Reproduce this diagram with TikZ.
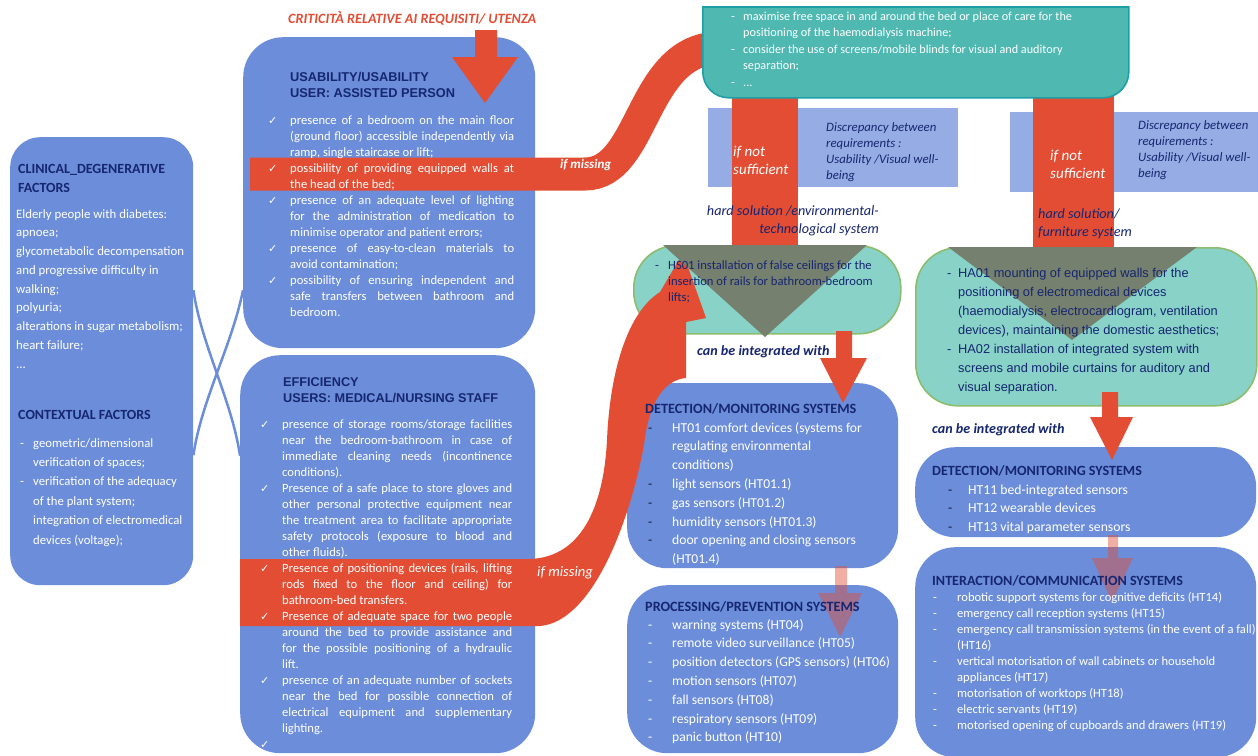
\documentclass[tikz,border=0pt]{standalone}
\usepackage{fontspec}
\setmainfont{Carlito}
\newfontfamily\arialf{Liberation Sans}
\newfontfamily\djv{DejaVu Sans}
\usetikzlibrary{calc}
\definecolor{boxblue}{RGB}{108,142,218}
\definecolor{navy}{RGB}{22,38,112}
\definecolor{redA}{RGB}{226,77,52}
\definecolor{peri}{RGB}{150,172,228}
\definecolor{tealA}{RGB}{78,184,177}
\definecolor{tealB}{RGB}{28,160,166}
\definecolor{ltteal}{RGB}{136,210,200}
\definecolor{grn}{RGB}{140,188,110}
\definecolor{tri}{RGB}{118,128,110}
\definecolor{dashc}{RGB}{20,25,50}
\newcommand\fs[2]{\fontsize{#1}{#2}\selectfont}
\newcommand\jst{\tolerance=10000\hyphenpenalty=10000\exhyphenpenalty=10000\relax}
\newlength\jw
\newcommand\ckm{\makebox[22pt][l]{\djv\fs{11}{11}✓}}
\newcommand\citem[1]{\par\noindent\ckm\parbox[t]{\jw}{\jst #1\strut}\par\prevdepth=\dp\strutbox}
\newcommand\ditem[3]{\par\noindent\makebox[#1][l]{#2}\parbox[t]{400pt}{\raggedright #3\strut}\par\prevdepth=\dp\strutbox}
\newcommand\ml[2][430pt]{\parbox[t]{#1}{\raggedright #2}}
\begin{document}
\begin{tikzpicture}[x=1pt,y=-1pt,
 box/.style={fill=boxblue,rounded corners=40pt,inner sep=0pt,anchor=north west},
 ltbox/.style={fill=ltteal,draw=grn,line width=1.6pt,rounded corners=42pt,inner sep=0pt,anchor=north west},
 rect/.style={fill=peri,inner sep=0pt,anchor=north west},
 txt/.style={inner sep=0pt,anchor=base west},
 wtxt/.style={txt,text=white},
 ntxt/.style={txt,text=navy},
 blk/.style={fill=redA},
 pink/.style={fill=redA,fill opacity=0.45},
 cross/.style={draw=boxblue,line width=2.5pt}]

\useasboundingbox (0,0) rectangle (1258,755);
\fill[white] (0,0) rectangle (1258,755);

% left / middle boxes
\node[box,rounded corners=30pt,minimum width=183pt,minimum height=448pt] (clin) at (10,137) {};
\node[box,minimum width=292pt,minimum height=311pt] (usab) at (243,37) {};
\node[box,minimum width=295pt,minimum height=398pt] (eff) at (240,355) {};
\draw[cross] ([yshift=71pt]clin.east) .. controls +(8,55) and +(-8,-55) .. ([yshift=98.5pt]eff.west);
\draw[cross] ([yshift=-94pt]clin.east) .. controls +(8,-55) and +(-11,55) .. ([yshift=-97.5pt]usab.west);

% discrepancy rectangles
\node[rect,minimum width=250pt,minimum height=79pt] (disc1) at (708,108) {};
\node[rect,minimum width=250pt,minimum height=80pt] (disc2) at (1010,112) {};

% light teal boxes
\node[ltbox,minimum width=267pt,minimum height=88pt] (hs) at (633,245) {};
\node[ltbox,minimum width=341pt,minimum height=158pt] (ha) at (915,247) {};

% right blue boxes
\node[box,minimum width=271pt,minimum height=185pt] (det1) at (627,383) {};
\node[box,minimum width=271pt,minimum height=168pt] (proc) at (627,585) {};
\node[box,minimum width=341pt,minimum height=90pt] (det2) at (915,447) {};
\node[box,minimum width=341pt,minimum height=210pt] (inter) at (915,547) {};

% red bands
\draw[redA,line width=33pt] (250,174) -- (585,174) .. controls (645,174) and (640,48) .. (720,48);
\fill[redA] (240,559) -- (530,559) .. controls (585,557) and (604,500) .. (607,440)
  .. controls (610,370) and (628,312) .. (660,292) -- (683,253) -- (706,318) -- (686,322)
  -- (686,378) .. controls (664,380) and (649,402) .. (644,445)
  .. controls (628,530) and (590,622) .. (540,626) -- (240,626) -- cycle;

% vertical red bars
\fill[redA] (732,80) rectangle (798,245);
\fill[redA] (1033,80) rectangle (1114,247);

% top teal box
\node[fill=tealA,draw=tealB,line width=1.6pt,rounded corners=26pt,inner sep=0pt,anchor=north west,minimum width=426pt,minimum height=130pt] (tt) at (702,-33) {};
\fill[white] (690,-40) rectangle (1140,6);
\draw[tealB,line width=1.6pt] (702,6.8) -- (1128,6.8);

% arrowheads in teal boxes
\fill[tri] (663,245) -- (867,245) -- (765,337) -- cycle;
\fill[tri] (948,247) -- (1197,247) -- (1072,340) -- cycle;

% block arrows
\fill[blk] (475,30) -- (497,30) -- (497,57) -- (518,57) -- (485,103) -- (452,57) -- (475,57) -- cycle;
\fill[blk] (836,331) -- (852,331) -- (852,358) -- (867,358) -- (843,403) -- (820,358) -- (836,358) -- cycle;
\fill[blk] (1102,392) -- (1118,392) -- (1118,417) -- (1133,417) -- (1112,460) -- (1090,417) -- (1102,417) -- cycle;
\fill[pink] (835,566) -- (847,566) -- (847,593) -- (862,593) -- (840,637) -- (818,593) -- (835,593) -- cycle;
\fill[pink] (1108,535) -- (1118,535) -- (1118,558) -- (1133,558) -- (1112,602) -- (1092,558) -- (1108,558) -- cycle;

% ---------- texts ----------
\node[txt,text=redA,font=\fs{14.2}{16}\bfseries\itshape] (crit) at (288,23) {CRITICITÀ RELATIVE AI REQUISITI/ UTENZA};

\node[ntxt,font=\fs{14}{19}\bfseries] (clint) at (18,173) {\ml{CLINICAL\_DEGENERATIVE\\FACTORS}};
\node[wtxt,font=\fs{12.8}{18.75}] (clinb) at (16,218) {\ml{Elderly people with diabetes:\\apnoea;\\glycometabolic decompensation\\and progressive difficulty in\\walking;\\polyuria;\\alterations in sugar metabolism;\\heart failure;\\...}};
\node[ntxt,font=\fs{14}{19}\bfseries] (ctxt) at (18,419) {CONTEXTUAL FACTORS};
\node[wtxt,font=\fs{12.7}{19.4}] (ctxb) at (20,447) {\ml{\ditem{13pt}{-}{geometric/dimensional\\verification of spaces;}\ditem{13pt}{-}{verification of the adequacy\\of the plant system;\\integration of electromedical\\devices (voltage);}}};

\node[ntxt,font=\arialf\fs{12.8}{16}\bfseries] (usabt) at (290,81) {\ml{USABILITY/USABILITY\\USER: ASSISTED PERSON}};
\node[wtxt,font=\fs{12.6}{16}] (usabb) at (268,124) {\ml{\jw=224pt
\citem{presence of a bedroom on the main floor\linebreak (ground floor) accessible independently via\linebreak ramp, single staircase or lift;}
\citem{possibility of providing equipped walls at\linebreak the head of the bed;}
\citem{presence of an adequate level of lighting\linebreak for the administration of medication to\linebreak minimise operator and patient errors;}
\citem{presence of easy-to-clean materials to\linebreak avoid contamination;}
\citem{possibility of ensuring independent and\linebreak safe transfers between bathroom and\linebreak bedroom.}}};

\node[ntxt,font=\arialf\fs{12.7}{16}\bfseries] (efft) at (283,386) {\ml{EFFICIENCY\\USERS: MEDICAL/NURSING STAFF}};
\node[wtxt,font=\fs{12.6}{16}] (effb) at (260,428) {\ml{\jw=230pt
\citem{presence of storage rooms/storage facilities\linebreak near the bedroom-bathroom in case of\linebreak immediate cleaning needs (incontinence\linebreak conditions).}
\citem{Presence of a safe place to store gloves and\linebreak other personal protective equipment near\linebreak the treatment area to facilitate appropriate\linebreak safety protocols (exposure to blood and\linebreak other fluids).}
\citem{Presence of positioning devices (rails, lifting\linebreak rods fixed to the floor and ceiling) for\linebreak bathroom-bed transfers.}
\citem{Presence of adequate space for two people\linebreak around the bed to provide assistance and\linebreak for the possible positioning of a hydraulic\linebreak lift.}
\citem{presence of an adequate number of sockets\linebreak near the bed for possible connection of\linebreak electrical equipment and supplementary\linebreak lighting.}
\citem{\mbox{}}}};

\node[wtxt,font=\fs{13}{15}\bfseries\itshape] (miss1) at (560,168) {if missing};
\node[wtxt,font=\fs{14.6}{16}\itshape] (miss2) at (537,576) {if missing};

\node[wtxt,font=\fs{12.2}{16.5}] (ttb) at (731,20) {\ml{\ditem{12pt}{-}{maximise free space in and around the bed or place of care for the\\positioning of the haemodialysis machine;}\ditem{12pt}{-}{consider the use of screens/mobile blinds for visual and auditory\\separation;}\ditem{12pt}{-}{...}}};

\node[ntxt,font=\fs{12.8}{16}\itshape] (d1t) at (826,131) {\ml{Discrepancy between\\requirements :\\Usability /Visual well-\\being}};
\node[ntxt,font=\fs{12.8}{16}\itshape] (d2t) at (1138,129) {\ml{Discrepancy between\\requirements :\\Usability /Visual well-\\being}};

\node[wtxt,font=\fs{15}{18}\itshape] (ins1) at (733,156) {\ml{if not\\sufficient}};
\node[wtxt,font=\fs{15}{18}\itshape] (ins2) at (1050,160) {\ml{if not\\sufficient}};

\node[ntxt,font=\fs{14.2}{18.5}\itshape,anchor=base east] (hs1t) at (879,215) {\parbox[t]{250pt}{\raggedleft hard solution /environmental-\\technological system}};
\node[ntxt,font=\fs{14.2}{18.5}\itshape] (hs2t) at (1038,218) {\ml{hard solution/\\furniture system}};

\node[ntxt,font=\fs{12.6}{16}] (hsb) at (655,269) {\ml{\ditem{13pt}{-}{HS01 installation of false ceilings for the\\insertion of rails for bathroom-bedroom\\lifts;}}};

\node[ntxt,font=\fs{14.1}{16}\bfseries\itshape] (cbi1) at (697,355) {can be integrated with};
\node[ntxt,font=\fs{14.1}{16}\bfseries\itshape] (cbi2) at (932,433) {can be integrated with};

\node[ntxt,font=\arialf\fs{12.8}{19}] (hab) at (947,277) {\ml{\ditem{11pt}{-}{HA01 mounting of equipped walls for the\\positioning of electromedical devices\\(haemodialysis, electrocardiogram, ventilation\\devices), maintaining the domestic aesthetics;}\ditem{11pt}{-}{HA02 installation of integrated system with\\screens and mobile curtains for auditory and\\visual separation.}}};

\node[ntxt,font=\fs{14.2}{16}\bfseries] (det1t) at (645,413) {DETECTION/MONITORING SYSTEMS};
\node[wtxt,font=\fs{13.6}{18.8}] (det1b) at (648,432) {\ml{\ditem{24pt}{\textcolor{dashc}{-}}{HT01 comfort devices (systems for\\regulating environmental\\conditions)}\ditem{24pt}{\textcolor{dashc}{-}}{light sensors (HT01.1)}\ditem{24pt}{\textcolor{dashc}{-}}{gas sensors (HT01.2)}\ditem{24pt}{\textcolor{dashc}{-}}{humidity sensors (HT01.3)}\ditem{24pt}{\textcolor{dashc}{-}}{door opening and closing sensors\\(HT01.4)}}};

\node[ntxt,font=\fs{14.2}{16}\bfseries] (proct) at (645,611) {PROCESSING/PREVENTION SYSTEMS};
\node[wtxt,font=\fs{13.6}{18.8}] (procb) at (648,629) {\ml{\ditem{24pt}{-}{warning systems (HT04)}\ditem{24pt}{-}{remote video surveillance (HT05)}\ditem{24pt}{-}{position detectors (GPS sensors) (HT06)}\ditem{24pt}{-}{motion sensors (HT07)}\ditem{24pt}{-}{fall sensors (HT08)}\ditem{24pt}{-}{respiratory sensors (HT09)}\ditem{24pt}{-}{panic button (HT10)}}};

\node[ntxt,font=\fs{14.1}{16}\bfseries] (det2t) at (932,475) {DETECTION/MONITORING SYSTEMS};
\node[wtxt,font=\fs{13.7}{18.6}] (det2b) at (948,494) {\ml{\ditem{20pt}{\textcolor{dashc}{-}}{HT11 bed-integrated sensors}\ditem{20pt}{\textcolor{dashc}{-}}{HT12 wearable devices}\ditem{20pt}{\textcolor{dashc}{-}}{HT13 vital parameter sensors}}};

\node[ntxt,font=\fs{14.1}{16}\bfseries] (intert) at (932,585) {INTERACTION/COMMUNICATION SYSTEMS};
\node[wtxt,font=\fs{12.55}{16}] (interb) at (933,601) {\ml{\ditem{24pt}{-}{robotic support systems for cognitive deficits (HT14)}\ditem{24pt}{-}{emergency call reception systems (HT15)}\ditem{24pt}{-}{emergency call transmission systems (in the event of a fall)\\(HT16)}\ditem{24pt}{-}{vertical motorisation of wall cabinets or household\\appliances (HT17)}\ditem{24pt}{-}{motorisation of worktops (HT18)}\ditem{24pt}{-}{electric servants (HT19)}\ditem{24pt}{-}{motorised opening of cupboards and drawers (HT19)}}};
\end{tikzpicture}
\end{document}
